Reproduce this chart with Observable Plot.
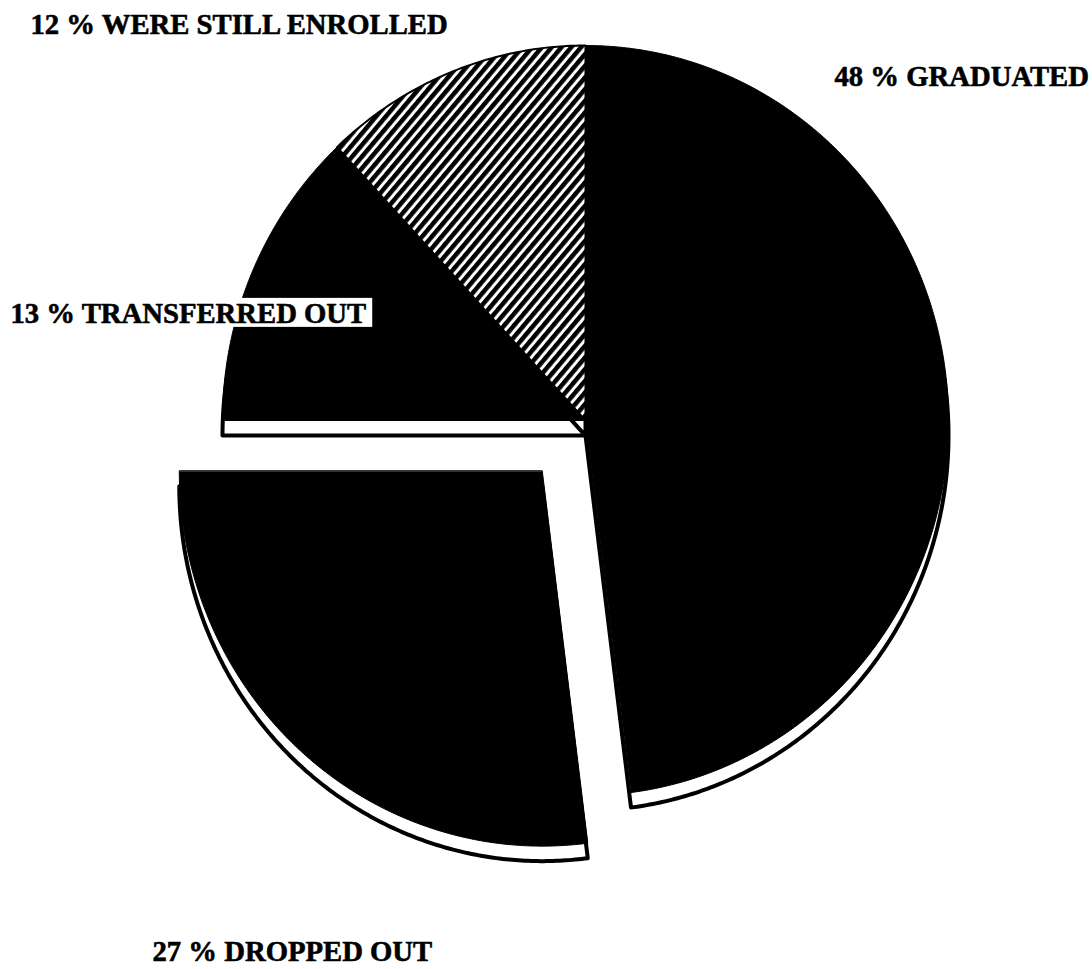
<!DOCTYPE html>
<html><head><meta charset="utf-8">
<script src="https://cdn.jsdelivr.net/npm/d3@7"></script>
<script src="https://cdn.jsdelivr.net/npm/@observablehq/plot@0.6"></script>
<style>body{margin:0;background:#fff}</style>
</head><body><div id="chart"></div>
<script>
// ---- data ----
const categories = ["GRADUATED", "DROPPED OUT", "TRANSFERRED OUT", "WERE STILL ENROLLED"];
const percents = [48, 27, 13, 12];
const labelTexts = ["48 % GRADUATED", "27 % DROPPED OUT", "13 % TRANSFERRED OUT", "12 % WERE STILL ENROLLED"];

// ---- layout / style ----
const W = 1092, H = 969;
const cx = 585, cy = 420, rxPx = 363, ryPx = 375;
const explodeBy = {"DROPPED OUT": 0.18};
const hatchedCat = "WERE STILL ENROLLED";
const depthPx = 15;
const depth = depthPx / ryPx;
const labelPos = {
  "GRADUATED": [834, 65],
  "DROPPED OUT": [152, 940],
  "TRANSFERRED OUT": [10, 302],
  "WERE STILL ENROLLED": [30, 13]
};

const total = d3.sum(percents);
let acc = 0;
const slices = categories.map((c, i) => {
  const a0 = acc / total * 2 * Math.PI; acc += percents[i];
  const a1 = acc / total * 2 * Math.PI;
  return {c, a0, a1, i};
});

function outline(s, shift) {
  const e = explodeBy[s.c] || 0, am = (s.a0 + s.a1) / 2;
  const ox = e * Math.sin(am), oy = e * Math.cos(am) - shift;
  const pts = [{c: s.c, x: ox, y: oy}];
  const n = Math.max(2, Math.ceil((s.a1 - s.a0) / (Math.PI / 360)));
  for (let k = 0; k <= n; k++) {
    const a = s.a0 + (s.a1 - s.a0) * k / n;
    pts.push({c: s.c, x: ox + Math.sin(a), y: oy + Math.cos(a)});
  }
  return pts;
}
const sides = slices.flatMap(s => outline(s, depth));
const topsSolid = slices.filter(s => s.c !== hatchedCat).flatMap(s => outline(s, 0));
const topsHatch = slices.filter(s => s.c === hatchedCat).flatMap(s => outline(s, 0));

const font = {fontFamily: "'Liberation Serif', 'Times New Roman', serif", fontWeight: "bold", fontSize: 28.7, fill: "black", stroke: "black", strokeWidth: 0.6};

const svg = Plot.plot({
  width: W, height: H,
  margin: 0,
  x: {domain: [-cx / rxPx, (W - cx) / rxPx], axis: null},
  y: {domain: [-(H - cy) / ryPx, cy / ryPx], axis: null},
  style: {background: "white"},
  marks: [
    Plot.line(sides, {x: "x", y: "y", z: "c", curve: "linear-closed", fill: "white", stroke: "black", strokeWidth: 4, strokeLinejoin: "round"}),
    Plot.line(topsSolid, {x: "x", y: "y", z: "c", curve: "linear-closed", fill: "black", stroke: "black", strokeWidth: 1}),
    Plot.line(topsHatch, {x: "x", y: "y", z: "c", curve: "linear-closed", fill: "url(#hatch)", stroke: "black", strokeWidth: 2}),
    ...categories.map((c, i) => Plot.text([labelTexts[i]], {
      text: d => d, frameAnchor: "top-left", dx: labelPos[c][0], dy: labelPos[c][1],
      textAnchor: "start", lineAnchor: "top", ...font
    }))
  ]
});

const ns = "http://www.w3.org/2000/svg";
const defs = document.createElementNS(ns, "defs");
defs.innerHTML = `<pattern id="hatch" patternUnits="userSpaceOnUse" width="7.5" height="7.5" patternTransform="rotate(40)">
  <rect width="7.5" height="7.5" fill="white"/><rect width="4.5" height="7.5" fill="black"/></pattern>`;
svg.insertBefore(defs, svg.firstChild);
document.getElementById("chart").appendChild(svg);

// white box behind the transferred label (same coordinate system as the text)
const tText = [...svg.querySelectorAll("text")].find(t => t.textContent === labelTexts[2]);
if (tText) {
  const bb = tText.getBBox();
  const rect = document.createElementNS(ns, "rect");
  rect.setAttribute("x", bb.x - 2); rect.setAttribute("y", bb.y + 1);
  rect.setAttribute("width", bb.width + 8); rect.setAttribute("height", bb.height - 3);
  rect.setAttribute("fill", "white");
  rect.setAttribute("stroke", "none");
  if (tText.getAttribute("transform")) rect.setAttribute("transform", tText.getAttribute("transform"));
  tText.parentNode.insertBefore(rect, tText);
}
</script></body></html>
